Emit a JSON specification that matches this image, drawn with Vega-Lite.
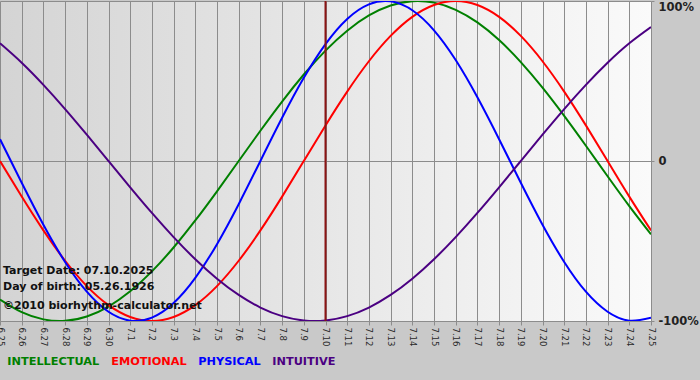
{
  "$schema": "https://vega.github.io/schema/vega-lite/v6.json",
  "width": 651,
  "height": 320,
  "autosize": "none",
  "padding": {"left": 0, "top": 1, "right": 49, "bottom": 59},
  "background": "#c9c9c9",
  "config": {
    "font": "DejaVu Sans",
    "view": {
      "stroke": null,
      "fill": {"gradient": "linear", "x1": 0, "y1": 0, "x2": 1, "y2": 0,
        "stops": [{"offset": 0, "color": "#d4d4d4"}, {"offset": 1, "color": "#fafafa"}]}
    }
  },
  "datasets": {
    "bio": [
      {"series":"INTELLECTUAL","day":0,"value":-0.8660},{"series":"INTELLECTUAL","day":1,"value":-0.9450},{"series":"INTELLECTUAL","day":2,"value":-0.9898},{"series":"INTELLECTUAL","day":3,"value":-0.9989},{"series":"INTELLECTUAL","day":4,"value":-0.9718},{"series":"INTELLECTUAL","day":5,"value":-0.9096},{"series":"INTELLECTUAL","day":6,"value":-0.8146},{"series":"INTELLECTUAL","day":7,"value":-0.6901},{"series":"INTELLECTUAL","day":8,"value":-0.5406},{"series":"INTELLECTUAL","day":9,"value":-0.3717},{"series":"INTELLECTUAL","day":10,"value":-0.1893},{"series":"INTELLECTUAL","day":11,"value":0},{"series":"INTELLECTUAL","day":12,"value":0.1893},{"series":"INTELLECTUAL","day":13,"value":0.3717},{"series":"INTELLECTUAL","day":14,"value":0.5406},{"series":"INTELLECTUAL","day":15,"value":0.6901},{"series":"INTELLECTUAL","day":16,"value":0.8146},{"series":"INTELLECTUAL","day":17,"value":0.9096},{"series":"INTELLECTUAL","day":18,"value":0.9718},{"series":"INTELLECTUAL","day":19,"value":0.9989},{"series":"INTELLECTUAL","day":20,"value":0.9898},{"series":"INTELLECTUAL","day":21,"value":0.9450},{"series":"INTELLECTUAL","day":22,"value":0.8660},{"series":"INTELLECTUAL","day":23,"value":0.7557},{"series":"INTELLECTUAL","day":24,"value":0.6182},{"series":"INTELLECTUAL","day":25,"value":0.4582},{"series":"INTELLECTUAL","day":26,"value":0.2817},{"series":"INTELLECTUAL","day":27,"value":0.0951},{"series":"INTELLECTUAL","day":28,"value":-0.0951},{"series":"INTELLECTUAL","day":29,"value":-0.2817},{"series":"INTELLECTUAL","day":30,"value":-0.4582},
      {"series":"EMOTIONAL","day":0,"value":0},{"series":"EMOTIONAL","day":1,"value":-0.2225},{"series":"EMOTIONAL","day":2,"value":-0.4339},{"series":"EMOTIONAL","day":3,"value":-0.6235},{"series":"EMOTIONAL","day":4,"value":-0.7818},{"series":"EMOTIONAL","day":5,"value":-0.9010},{"series":"EMOTIONAL","day":6,"value":-0.9749},{"series":"EMOTIONAL","day":7,"value":-1},{"series":"EMOTIONAL","day":8,"value":-0.9749},{"series":"EMOTIONAL","day":9,"value":-0.9010},{"series":"EMOTIONAL","day":10,"value":-0.7818},{"series":"EMOTIONAL","day":11,"value":-0.6235},{"series":"EMOTIONAL","day":12,"value":-0.4339},{"series":"EMOTIONAL","day":13,"value":-0.2225},{"series":"EMOTIONAL","day":14,"value":0},{"series":"EMOTIONAL","day":15,"value":0.2225},{"series":"EMOTIONAL","day":16,"value":0.4339},{"series":"EMOTIONAL","day":17,"value":0.6235},{"series":"EMOTIONAL","day":18,"value":0.7818},{"series":"EMOTIONAL","day":19,"value":0.9010},{"series":"EMOTIONAL","day":20,"value":0.9749},{"series":"EMOTIONAL","day":21,"value":1},{"series":"EMOTIONAL","day":22,"value":0.9749},{"series":"EMOTIONAL","day":23,"value":0.9010},{"series":"EMOTIONAL","day":24,"value":0.7818},{"series":"EMOTIONAL","day":25,"value":0.6235},{"series":"EMOTIONAL","day":26,"value":0.4339},{"series":"EMOTIONAL","day":27,"value":0.2225},{"series":"EMOTIONAL","day":28,"value":0},{"series":"EMOTIONAL","day":29,"value":-0.2225},{"series":"EMOTIONAL","day":30,"value":-0.4339},
      {"series":"PHYSICAL","day":0,"value":0.1362},{"series":"PHYSICAL","day":1,"value":-0.1362},{"series":"PHYSICAL","day":2,"value":-0.3984},{"series":"PHYSICAL","day":3,"value":-0.6311},{"series":"PHYSICAL","day":4,"value":-0.8170},{"series":"PHYSICAL","day":5,"value":-0.9423},{"series":"PHYSICAL","day":6,"value":-0.9977},{"series":"PHYSICAL","day":7,"value":-0.9791},{"series":"PHYSICAL","day":8,"value":-0.8879},{"series":"PHYSICAL","day":9,"value":-0.7308},{"series":"PHYSICAL","day":10,"value":-0.5196},{"series":"PHYSICAL","day":11,"value":-0.2698},{"series":"PHYSICAL","day":12,"value":0},{"series":"PHYSICAL","day":13,"value":0.2698},{"series":"PHYSICAL","day":14,"value":0.5196},{"series":"PHYSICAL","day":15,"value":0.7308},{"series":"PHYSICAL","day":16,"value":0.8879},{"series":"PHYSICAL","day":17,"value":0.9791},{"series":"PHYSICAL","day":18,"value":0.9977},{"series":"PHYSICAL","day":19,"value":0.9423},{"series":"PHYSICAL","day":20,"value":0.8170},{"series":"PHYSICAL","day":21,"value":0.6311},{"series":"PHYSICAL","day":22,"value":0.3984},{"series":"PHYSICAL","day":23,"value":0.1362},{"series":"PHYSICAL","day":24,"value":-0.1362},{"series":"PHYSICAL","day":25,"value":-0.3984},{"series":"PHYSICAL","day":26,"value":-0.6311},{"series":"PHYSICAL","day":27,"value":-0.8170},{"series":"PHYSICAL","day":28,"value":-0.9423},{"series":"PHYSICAL","day":29,"value":-0.9977},{"series":"PHYSICAL","day":30,"value":-0.9791},
      {"series":"INTUITIVE","day":0,"value":0.7357},{"series":"INTUITIVE","day":1,"value":0.6142},{"series":"INTUITIVE","day":2,"value":0.4759},{"series":"INTUITIVE","day":3,"value":0.3247},{"series":"INTUITIVE","day":4,"value":0.1646},{"series":"INTUITIVE","day":5,"value":0},{"series":"INTUITIVE","day":6,"value":-0.1646},{"series":"INTUITIVE","day":7,"value":-0.3247},{"series":"INTUITIVE","day":8,"value":-0.4759},{"series":"INTUITIVE","day":9,"value":-0.6142},{"series":"INTUITIVE","day":10,"value":-0.7357},{"series":"INTUITIVE","day":11,"value":-0.8372},{"series":"INTUITIVE","day":12,"value":-0.9158},{"series":"INTUITIVE","day":13,"value":-0.9694},{"series":"INTUITIVE","day":14,"value":-0.9966},{"series":"INTUITIVE","day":15,"value":-0.9966},{"series":"INTUITIVE","day":16,"value":-0.9694},{"series":"INTUITIVE","day":17,"value":-0.9158},{"series":"INTUITIVE","day":18,"value":-0.8372},{"series":"INTUITIVE","day":19,"value":-0.7357},{"series":"INTUITIVE","day":20,"value":-0.6142},{"series":"INTUITIVE","day":21,"value":-0.4759},{"series":"INTUITIVE","day":22,"value":-0.3247},{"series":"INTUITIVE","day":23,"value":-0.1646},{"series":"INTUITIVE","day":24,"value":0},{"series":"INTUITIVE","day":25,"value":0.1646},{"series":"INTUITIVE","day":26,"value":0.3247},{"series":"INTUITIVE","day":27,"value":0.4759},{"series":"INTUITIVE","day":28,"value":0.6142},{"series":"INTUITIVE","day":29,"value":0.7357},{"series":"INTUITIVE","day":30,"value":0.8372}
    ],
    "notes": [
      {"label": "Target Date: 07.10.2025", "day": 0, "value": -0.6875},
      {"label": "Day of birth: 05.26.1926", "day": 0, "value": -0.7875},
      {"label": "©2010 biorhythm-calculator.net", "day": 0, "value": -0.906}
    ],
    "target": [{"date": "7.10", "day": 15, "value": -1, "top": 1}]
  },
  "encoding": {
    "x": {
      "field": "day", "type": "quantitative",
      "scale": {"domain": [0, 30], "nice": false, "zero": false},
      "axis": {
        "title": null,
        "values": [0,1,2,3,4,5,6,7,8,9,10,11,12,13,14,15,16,17,18,19,20,21,22,23,24,25,26,27,28,29,30],
        "labelExpr": "['6.25','6.26','6.27','6.28','6.29','6.30','7.1','7.2','7.3','7.4','7.5','7.6','7.7','7.8','7.9','7.10','7.11','7.12','7.13','7.14','7.15','7.16','7.17','7.18','7.19','7.20','7.21','7.22','7.23','7.24','7.25'][datum.value]",
        "labelAngle": 90,
        "labelFlush": false,
        "labelOverlap": false,
        "labelBound": false,
        "grid": true,
        "gridColor": "#8c8c8c",
        "gridOpacity": 1,
        "gridWidth": 1,
        "domainColor": "#8c8c8c",
        "tickColor": "#8c8c8c",
        "tickSize": 4,
        "labelPadding": 2,
        "labelFont": "DejaVu Sans",
        "labelFontSize": 8.5,
        "labelColor": "#2a2a2a"
      }
    },
    "y": {
      "field": "value", "type": "quantitative",
      "scale": {"domain": [-1, 1], "nice": false, "zero": false},
      "axis": {
        "orient": "right",
        "title": null,
        "values": [-1, 0, 1],
        "labelExpr": "datum.value == 1 ? '100%' : datum.value == 0 ? '0' : '-100%'",
        "grid": true,
        "gridColor": "#8c8c8c",
        "gridOpacity": 1,
        "domain": false,
        "tickSize": 3,
        "tickColor": "#8c8c8c",
        "labelPadding": 4,
        "labelFont": "DejaVu Sans",
        "labelFontWeight": "bold",
        "labelFontSize": 11.5,
        "labelColor": "#222222",
        "labelFlush": false,
        "labelBaseline": {"condition": {"test": "datum.value == 1", "value": "top"}, "value": "middle"}
      }
    }
  },
  "layer": [
    {
      "data": {"name": "bio"},
      "mark": {"type": "line", "interpolate": "natural", "strokeWidth": 2, "clip": true},
      "encoding": {
        "color": {
          "field": "series", "type": "nominal",
          "scale": {"domain": ["INTELLECTUAL", "EMOTIONAL", "PHYSICAL", "INTUITIVE"], "range": ["#008000", "#ff0000", "#0000ff", "#4b0082"]},
          "legend": {
            "orient": "none",
            "legendX": -4,
            "legendY": 355,
            "direction": "horizontal",
            "title": null,
            "symbolSize": 0,
            "symbolStrokeWidth": 0,
            "symbolOpacity": 0,
            "labelOffset": 0,
            "columnPadding": -4,
            "padding": 0,
            "labelFont": "DejaVu Sans",
            "labelFontWeight": "bold",
            "labelFontSize": 11.3,
            "encode": {"labels": {"update": {"fill": {"scale": "color", "field": "value"}}}}
          }
        }
      }
    },
    {
      "data": {"name": "notes"},
      "mark": {"type": "text", "align": "left", "baseline": "middle", "dx": 3, "font": "DejaVu Sans", "fontWeight": "bold", "fontSize": 11, "color": "#111111"},
      "encoding": {
        "text": {"field": "label"}
      }
    },
    {
      "data": {"name": "target"},
      "mark": {"type": "rule", "color": "#8b1414", "strokeWidth": 2},
      "encoding": {
        "y2": {"field": "top"}
      }
    }
  ]
}
